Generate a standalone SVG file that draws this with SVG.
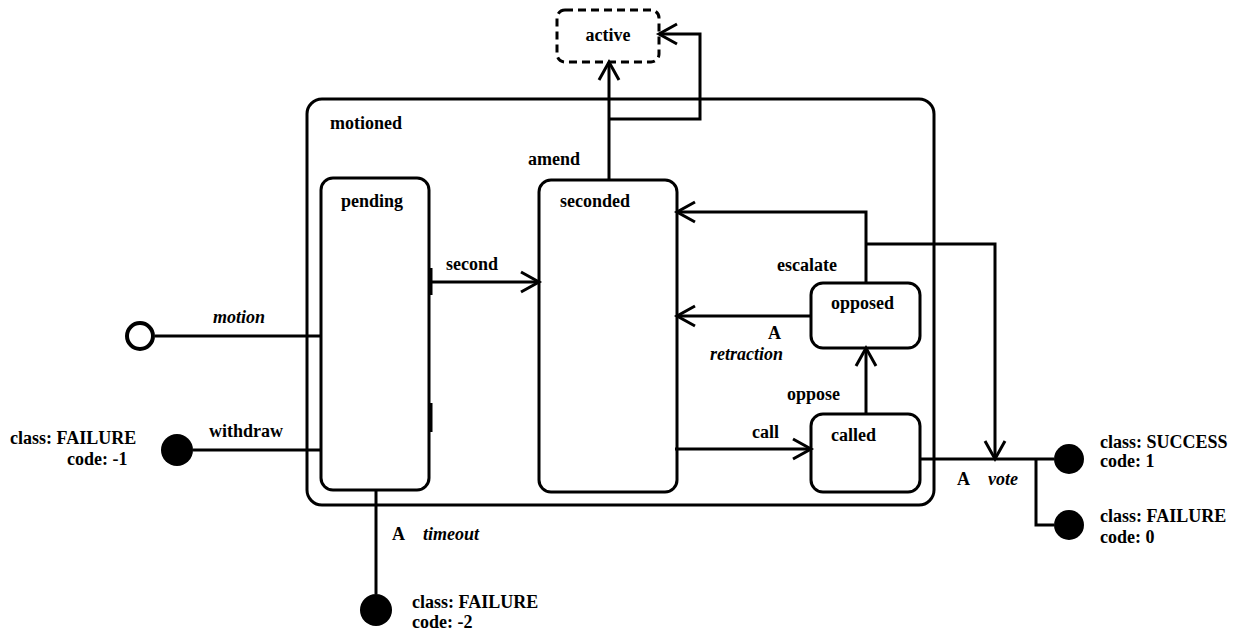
<svg xmlns="http://www.w3.org/2000/svg" width="1237" height="632" viewBox="0 0 1237 632">
  <style>
    .state { fill: none; stroke: #000; stroke-width: 3; }
    .dashed { stroke-dasharray: 8 5; }
    .edge { fill: none; stroke: #000; stroke-width: 3; }
    .lbl { font-family: "Liberation Serif", "Times New Roman", serif; font-size: 18px; font-weight: bold; fill: #000; }
    .ev { font-style: italic; }
    .final { fill: #000; }
  </style>
  <defs>
    <marker id="open" markerUnits="userSpaceOnUse" markerWidth="24" markerHeight="24" viewBox="-20 -12 24 24" refX="0" refY="0" orient="auto" overflow="visible">
      <path d="M-18,-10 L0,0 L-18,10" fill="none" stroke="#000" stroke-width="3"/>
    </marker>
  </defs>

  <!-- composite state -->
  <g id="motioned">
    <rect class="state" x="307" y="99" width="627" height="406" rx="15"/>
    <text class="lbl" x="330" y="129">motioned</text>
  </g>

  <g id="active">
    <rect class="state dashed" x="557" y="10" width="102" height="52" rx="8"/>
    <text class="lbl" x="608" y="41" text-anchor="middle">active</text>
  </g>

  <g id="pending">
    <rect class="state" x="321" y="178" width="108" height="312" rx="12"/>
    <path class="edge" d="M431,268 V295 M431,403 V432" stroke-width="2"/>
    <text class="lbl" x="341" y="207">pending</text>
  </g>

  <g id="seconded">
    <rect class="state" x="539" y="180" width="138" height="312" rx="12"/>
    <text class="lbl" x="560" y="207">seconded</text>
  </g>

  <g id="opposed">
    <rect class="state" x="811" y="283" width="109" height="65" rx="12"/>
    <text class="lbl" x="831" y="309">opposed</text>
  </g>

  <g id="called">
    <rect class="state" x="811" y="414" width="109" height="78" rx="12"/>
    <text class="lbl" x="831" y="441">called</text>
  </g>

  <g id="initial">
    <circle cx="140" cy="336" r="13" fill="#fff" stroke="#000" stroke-width="4"/>
  </g>

  <g id="final-withdraw">
    <circle class="final" cx="177" cy="450" r="16"/>
    <text class="lbl" x="10" y="444">class: FAILURE</text>
    <text class="lbl" x="67" y="465">code: -1</text>
  </g>

  <g id="final-timeout">
    <circle class="final" cx="376" cy="610" r="16"/>
    <text class="lbl" x="412" y="608">class: FAILURE</text>
    <text class="lbl" x="412" y="628">code: -2</text>
  </g>

  <g id="final-success">
    <circle class="final" cx="1069" cy="459" r="15"/>
    <text class="lbl" x="1100" y="448">class: SUCCESS</text>
    <text class="lbl" x="1100" y="467">code: 1</text>
  </g>

  <g id="final-failure">
    <circle class="final" cx="1069" cy="525" r="15"/>
    <text class="lbl" x="1100" y="522">class: FAILURE</text>
    <text class="lbl" x="1100" y="543">code: 0</text>
  </g>

  <!-- transitions -->
  <g id="connectors">
    <path class="edge" d="M155,336 H321"/>
    <path class="edge" d="M193,450 H321"/>
    <path class="edge" d="M429,282 H539" marker-end="url(#open)"/>
    <path class="edge" d="M609,180 V62" marker-end="url(#open)"/>
    <path class="edge" d="M609,119 H700 V34 H659" marker-end="url(#open)"/>
    <path class="edge" d="M866,283 V212 H677" marker-end="url(#open)"/>
    <path class="edge" d="M866,244 H995 V459" marker-end="url(#open)"/>
    <path class="edge" d="M811,316 H677" marker-end="url(#open)"/>
    <path class="edge" d="M866,414 V348" marker-end="url(#open)"/>
    <path class="edge" d="M675,449 H811" marker-end="url(#open)"/>
    <path class="edge" d="M920,459 H1054"/>
    <path class="edge" d="M1036,459 V525 H1054"/>
    <path class="edge" d="M376,490 V594"/>

    <text class="lbl" x="528" y="165">amend</text>
    <text class="lbl" x="446" y="270">second</text>
    <text class="lbl" x="777" y="271">escalate</text>
    <text class="lbl" x="768" y="339">A</text>
    <text class="lbl ev" x="710" y="360">retraction</text>
    <text class="lbl" x="787" y="400">oppose</text>
    <text class="lbl" x="752" y="438">call</text>
    <text class="lbl ev" x="213" y="323">motion</text>
    <text class="lbl" x="209" y="437">withdraw</text>
    <text class="lbl" x="392" y="540">A</text>
    <text class="lbl ev" x="423" y="540">timeout</text>
    <text class="lbl" x="957" y="485">A</text>
    <text class="lbl ev" x="988" y="485">vote</text>
  </g>
</svg>
